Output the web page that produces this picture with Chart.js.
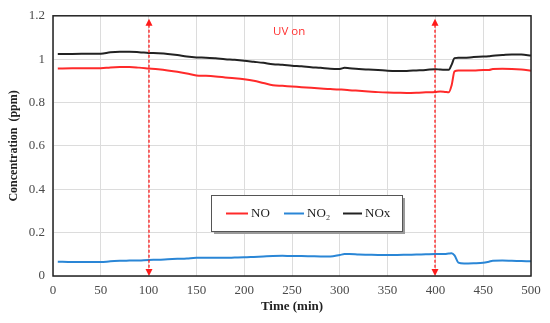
<!DOCTYPE html>
<html>
<head>
<meta charset="utf-8">
<script src="https://cdn.jsdelivr.net/npm/chart.js@4/dist/chart.umd.min.js"></script>
<style>
html,body{margin:0;padding:0;background:#fff;}
#wrap{width:550px;height:323px;position:relative;}
</style>
</head>
<body>
<div id="wrap"><canvas id="c" width="550" height="323"></canvas></div>
<script>
const times = [5,20,40,50,60,70,80,90,100,110,120,130,140,150,160,170,180,190,200,210,220,230,240,250,260,270,280,290,300,305,310,320,330,340,350,360,370,380,390,400,405,410,414,417,420,424,430,440,450,456,460,470,480,490,500];
const noValues = [0.957,0.958,0.958,0.958,0.962,0.964,0.964,0.961,0.957,0.953,0.948,0.942,0.934,0.925,0.923,0.920,0.916,0.912,0.907,0.900,0.890,0.880,0.877,0.874,0.871,0.868,0.865,0.862,0.860,0.859,0.857,0.854,0.851,0.848,0.846,0.845,0.844,0.845,0.847,0.849,0.851,0.849,0.847,0.880,0.944,0.948,0.948,0.948,0.950,0.950,0.955,0.956,0.955,0.952,0.947];
const no2Values = [0.066,0.064,0.064,0.064,0.068,0.070,0.071,0.072,0.074,0.075,0.077,0.079,0.081,0.084,0.084,0.084,0.084,0.085,0.086,0.088,0.090,0.092,0.093,0.092,0.092,0.091,0.090,0.090,0.097,0.101,0.101,0.099,0.098,0.097,0.097,0.097,0.098,0.099,0.100,0.101,0.101,0.102,0.104,0.105,0.095,0.062,0.058,0.059,0.061,0.066,0.070,0.071,0.070,0.069,0.068];
const noxValues = [1.024,1.024,1.025,1.025,1.032,1.034,1.034,1.032,1.029,1.027,1.024,1.019,1.012,1.008,1.007,1.004,1.000,0.997,0.993,0.988,0.983,0.977,0.974,0.970,0.967,0.963,0.960,0.956,0.955,0.960,0.958,0.955,0.952,0.950,0.947,0.946,0.946,0.948,0.950,0.954,0.952,0.951,0.951,0.975,1.005,1.007,1.006,1.010,1.012,1.014,1.016,1.019,1.022,1.021,1.017];
const seriesLabels = ['NO','NO\u2082','NOx'];
const seriesColors = ['#ff2a2a','#2a86d6','#222222'];
const uvTimes = [100,400];
const uvLabel = 'UV on';
const xTicks = [0,50,100,150,200,250,300,350,400,450,500];
const yTicks = [0,0.2,0.4,0.6,0.8,1,1.2];

function pts(vals){ return times.map((t,i)=>({x:t,y:vals[i]})); }

const serif = "'Liberation Serif','Times New Roman',serif";

const decor = {
  id:'decor',
  afterDatasetsDraw(chart){
    const ctx = chart.ctx, a = chart.chartArea, xs = chart.scales.x, ys = chart.scales.y;
    ctx.save();
    // UV arrows
    uvTimes.forEach(t=>{
      const x = Math.round(xs.getPixelForValue(t));
      const top = ys.getPixelForValue(1.2)+3;
      const bot = ys.getPixelForValue(0);
      ctx.strokeStyle = '#ff1a1a';
      ctx.fillStyle = '#ff1a1a';
      ctx.lineWidth = 1.3;
      ctx.setLineDash([3,2]);
      ctx.beginPath(); ctx.moveTo(x, top+6); ctx.lineTo(x, bot-6); ctx.stroke();
      ctx.setLineDash([]);
      ctx.beginPath(); ctx.moveTo(x, top); ctx.lineTo(x-3.5, top+7); ctx.lineTo(x+3.5, top+7); ctx.closePath(); ctx.fill();
      ctx.beginPath(); ctx.moveTo(x, bot); ctx.lineTo(x-3.5, bot-7); ctx.lineTo(x+3.5, bot-7); ctx.closePath(); ctx.fill();
    });
    ctx.font = "11.5px 'Open Sans','Liberation Sans',sans-serif";
    ctx.textAlign = 'center'; ctx.textBaseline = 'middle';
    ctx.fillStyle = '#ff3030';
    ctx.fillText(uvLabel, xs.getPixelForValue(247), ys.getPixelForValue(1.126));
    // frame
    ctx.strokeStyle = '#222';
    ctx.lineWidth = 1.5;
    ctx.strokeRect(a.left, a.top, a.right-a.left, a.bottom-a.top);
    // legend box
    const L = 211, T = 195, W = 191, H = 36;
    ctx.fillStyle = '#9a9a9a';
    ctx.fillRect(L+3, T+3, W, H);
    ctx.fillStyle = '#fff';
    ctx.fillRect(L, T, W, H);
    ctx.strokeStyle = '#555';
    ctx.lineWidth = 1;
    ctx.strokeRect(L+0.5, T+0.5, W, H);
    const items = [[226,251],[284,307],[343,365]];
    ctx.font = "13px " + serif;
    ctx.textBaseline = 'middle'; ctx.textAlign = 'left';
    chart.data.datasets.forEach((ds,i)=>{
      const [lx, tx] = items[i];
      ctx.strokeStyle = ds.borderColor; ctx.lineWidth = 2;
      ctx.beginPath(); ctx.moveTo(lx, 213.5); ctx.lineTo(tx-3, 213.5); ctx.stroke();
      ctx.fillStyle = '#222';
      ctx.fillText(ds.label, tx, 214);
    });
    ctx.restore();
  }
};

new Chart(document.getElementById('c'), {
  type:'line',
  data:{
    datasets:[
      {label:seriesLabels[0], data:pts(noValues), borderColor:seriesColors[0], borderWidth:2, pointRadius:0, cubicInterpolationMode:'monotone'},
      {label:seriesLabels[1], data:pts(no2Values), borderColor:seriesColors[1], borderWidth:2, pointRadius:0, cubicInterpolationMode:'monotone'},
      {label:seriesLabels[2], data:pts(noxValues), borderColor:seriesColors[2], borderWidth:2, pointRadius:0, cubicInterpolationMode:'monotone'}
    ]
  },
  options:{
    responsive:false,
    animation:false,
    events:[],
    layout:{padding:{left:0,right:19,top:15,bottom:0}},
    plugins:{legend:{display:false}, tooltip:{enabled:false}},
    scales:{
      x:{
        type:'linear', min:0, max:500,
        afterFit(s){ s.height = 47; },
        afterBuildTicks(s){ s.ticks = xTicks.map(v=>({value:v})); },
        grid:{color:'#dcdcdc', drawTicks:false, lineWidth:1},
        border:{display:false},
        ticks:{padding:7, color:'#4a4a4a', font:{family:serif, size:13}, maxRotation:0},
        title:{display:true, text:'Time (min)', color:'#222', font:{family:serif, size:13, weight:'bold'}, padding:{top:4,bottom:9}}
      },
      y:{
        min:0, max:1.2,
        afterFit(s){ s.width = 53; },
        afterBuildTicks(s){ s.ticks = yTicks.map(v=>({value:v})); },
        grid:{color:'#dcdcdc', drawTicks:false, lineWidth:1},
        border:{display:false},
        ticks:{padding:8, color:'#4a4a4a', font:{family:serif, size:13}, callback:v=>String(+v.toFixed(1))},
        title:{display:true, text:'Concentration  (ppm)', color:'#222', font:{family:serif, size:12, weight:'bold'}, padding:{top:7,bottom:0}}
      }
    }
  },
  plugins:[decor]
});
</script>
</body>
</html>
